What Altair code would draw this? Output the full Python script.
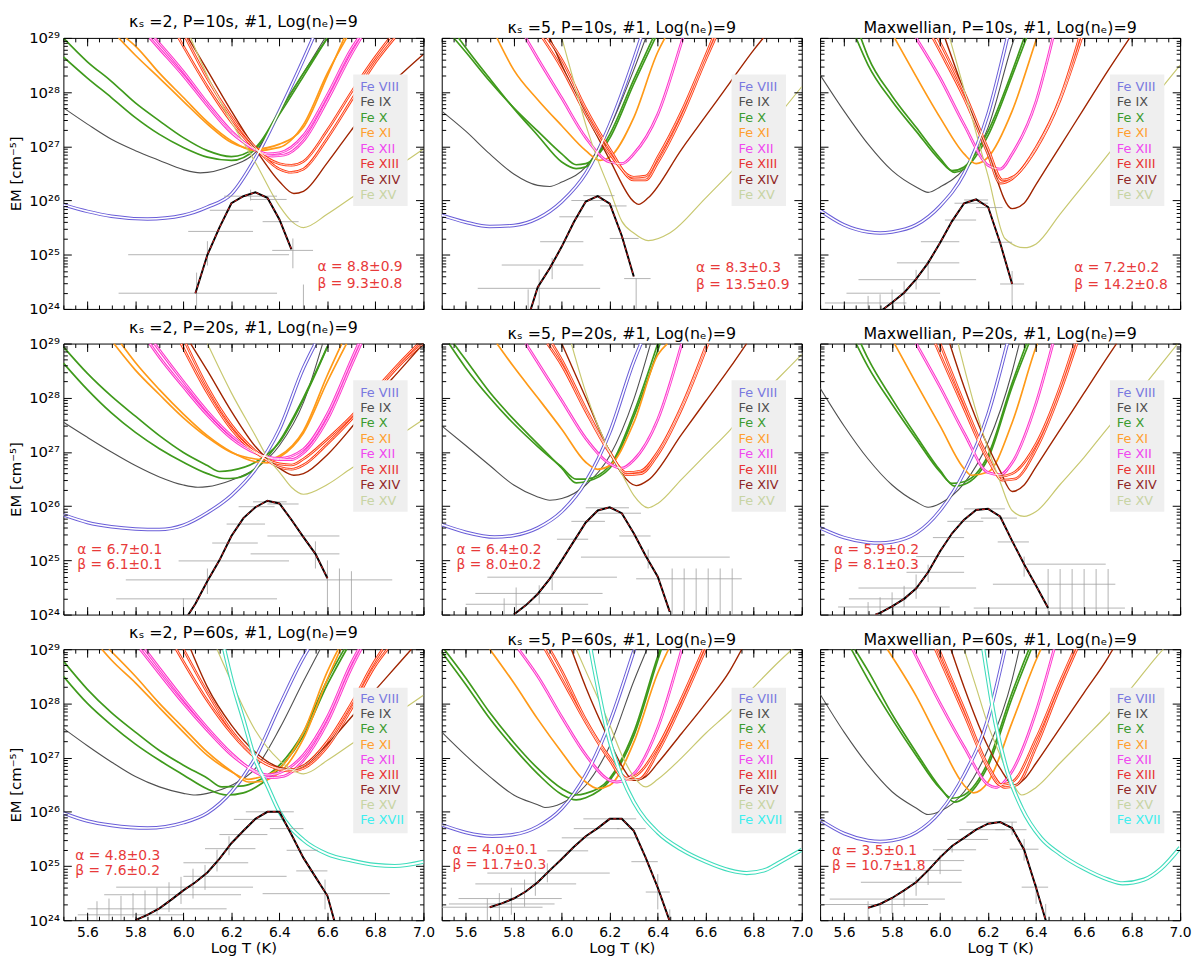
import math
import altair as alt
import pandas as pd

FONT = "DejaVu Sans, Liberation Sans, sans-serif"

IONS = ["Fe VIII", "Fe IX", "Fe X", "Fe XI", "Fe XII", "Fe XIII", "Fe XIV", "Fe XV", "Fe XVII"]
LINE_COLOR = {"Fe VIII": "#6a5ed8", "Fe IX": "#505050", "Fe X": "#3f9a1c", "Fe XI": "#ff9a18",
              "Fe XII": "#ff33cc", "Fe XIII": "#ff3a10", "Fe XIV": "#a02400", "Fe XV": "#c8c870",
              "Fe XVII": "#40dcbc"}
LEGEND_COLOR = {"Fe VIII": "#7a7ae0", "Fe IX": "#505050", "Fe X": "#3c9c30", "Fe XI": "#ffa030",
                "Fe XII": "#f048f0", "Fe XIII": "#e83434", "Fe XIV": "#902828", "Fe XV": "#c8d4a4",
                "Fe XVII": "#40eeee"}
LINE_WIDTH = {"Fe VIII": 3.6, "Fe IX": 1.1, "Fe X": 1.7, "Fe XI": 1.7, "Fe XII": 2.8,
              "Fe XIII": 2.6, "Fe XIV": 1.4, "Fe XV": 1.2, "Fe XVII": 4.2}
CORE_WIDTH = {"Fe VIII": 1.6, "Fe IX": 0, "Fe X": 0, "Fe XI": 0, "Fe XII": 0.8,
              "Fe XIII": 0.8, "Fe XIV": 0, "Fe XV": 0, "Fe XVII": 2.0}

# ---------------- kappa=2, P=10s ----------------
K2_P10_CURVES = {
    "Fe VIII": [[(5.5, 25.92), (5.6, 25.8), (5.7, 25.71), (5.85, 25.66), (6.0, 25.73), (6.1, 25.88),
                 (6.2, 26.12), (6.3, 26.78), (6.4, 27.65), (6.5, 28.6), (6.54, 29.0)]],
    "Fe IX": [[(5.5, 27.71), (5.6, 27.41), (5.7, 27.13), (5.8, 26.92), (5.9, 26.74), (6.0, 26.57),
               (6.07, 26.51), (6.2, 26.64), (6.3, 26.89), (6.4, 27.62), (6.5, 28.35), (6.59, 29.0)]],
    "Fe X": [[(5.5, 29.0), (5.6, 28.56), (5.7, 28.2), (5.8, 27.8), (5.9, 27.47), (6.0, 27.16),
              (6.1, 26.92), (6.2, 26.81), (6.3, 26.98), (6.4, 27.65), (6.5, 28.35), (6.6, 29.0)],
             [(5.5, 28.65), (5.6, 28.26), (5.7, 27.9), (5.8, 27.53), (5.9, 27.22), (6.0, 26.98),
              (6.1, 26.8), (6.2, 26.74), (6.3, 26.95), (6.4, 27.59), (6.5, 28.29), (6.6, 29.0)]],
    "Fe XI": [[(5.73, 29.0), (5.8, 28.68), (5.9, 28.26), (6.0, 27.83), (6.1, 27.41), (6.2, 27.07),
               (6.3, 26.95), (6.4, 27.04), (6.5, 27.35), (6.6, 28.3), (6.67, 29.0)],
              [(5.76, 29.0), (5.8, 28.85), (5.9, 28.35), (6.0, 27.9), (6.1, 27.45), (6.2, 27.1),
               (6.3, 26.92), (6.4, 26.98), (6.5, 27.4), (6.6, 28.35), (6.68, 29.0)]],
    "Fe XII": [[(5.86, 29.0), (5.9, 28.8), (6.0, 28.3), (6.1, 27.75), (6.2, 27.25), (6.3, 26.95),
                (6.35, 26.86), (6.4, 26.88), (6.5, 27.2), (6.6, 27.95), (6.7, 28.8), (6.73, 29.0)],
               [(5.88, 29.0), (5.9, 28.9), (6.0, 28.38), (6.1, 27.8), (6.2, 27.28), (6.3, 26.93),
                (6.37, 26.82), (6.42, 26.84), (6.5, 27.1), (6.6, 27.85), (6.7, 28.7), (6.74, 29.0)]],
    "Fe XIII": [[(5.98, 29.0), (6.1, 28.1), (6.2, 27.45), (6.3, 26.95), (6.4, 26.68), (6.45, 26.65),
                 (6.5, 26.72), (6.6, 27.3), (6.7, 28.0), (6.8, 28.65), (6.86, 29.0)],
                [(6.01, 29.0), (6.1, 28.25), (6.2, 27.55), (6.3, 26.98), (6.4, 26.58), (6.45, 26.52),
                 (6.5, 26.58), (6.6, 27.15), (6.7, 27.85), (6.8, 28.55), (6.88, 29.0)]],
    "Fe XIV": [[(6.02, 29.0), (6.1, 28.4), (6.2, 27.65), (6.3, 26.95), (6.4, 26.35), (6.46, 26.13),
                (6.5, 26.17), (6.6, 26.7), (6.7, 27.3), (6.8, 27.85), (6.9, 28.3), (7.0, 28.7)]],
    "Fe XV": [[(6.03, 29.0), (6.1, 28.3), (6.2, 27.45), (6.3, 26.7), (6.4, 25.9), (6.45, 25.62),
               (6.5, 25.5), (6.6, 25.75), (6.7, 26.05), (6.8, 26.35), (6.9, 26.65), (7.0, 26.95)]],
}
K2_P10_DEM = [(6.05, 24.29), (6.1, 25.0), (6.15, 25.5), (6.2, 25.95), (6.25, 26.08), (6.3, 26.15),
              (6.35, 26.05), (6.4, 25.65), (6.45, 25.1)]
K2_P10_XERR = [(5.73, 6.39, 24.29), (5.77, 6.44, 25.0), (6.02, 6.29, 25.43), (6.11, 6.29, 25.82),
               (6.17, 6.39, 26.08), (6.28, 6.43, 26.02), (6.33, 6.48, 25.61), (6.37, 6.54, 25.08)]
K2_P10_YERR = [(6.055, 24.0, 24.67), (6.1, 24.8, 25.25), (6.28, 26.0, 26.2), (6.456, 24.75, 25.3),
               (6.5, 24.0, 24.45)]
K2_P10_FIT = ["α = 8.8±0.9", "β = 9.3±0.8"]

# ---------------- kappa=5, P=10s ----------------
K5_P10_CURVES = {
    "Fe VIII": [[(5.5, 25.73), (5.6, 25.6), (5.7, 25.52), (5.8, 25.54), (5.9, 25.67), (6.0, 25.98),
                 (6.1, 26.5), (6.2, 27.4), (6.3, 28.6), (6.33, 29.0)]],
    "Fe IX": [[(5.5, 27.65), (5.6, 27.28), (5.7, 26.86), (5.8, 26.49), (5.9, 26.28), (5.95, 26.26),
               (6.0, 26.34), (6.1, 26.62), (6.2, 27.35), (6.3, 28.41), (6.35, 29.0)]],
    "Fe X": [[(5.55, 29.0), (5.6, 28.74), (5.7, 28.2), (5.8, 27.71), (5.9, 27.28), (6.0, 26.86),
              (6.06, 26.66), (6.1, 26.68), (6.14, 26.8), (6.2, 27.22), (6.3, 28.23), (6.38, 29.0)],
             [(5.57, 29.0), (5.6, 28.82), (5.7, 28.25), (5.8, 27.7), (5.9, 27.2), (6.0, 26.71),
              (6.06, 26.59), (6.1, 26.62), (6.14, 26.78), (6.2, 27.15), (6.3, 28.15), (6.39, 29.0)]],
    "Fe XI": [[(5.73, 29.0), (5.8, 28.41), (5.9, 27.86), (6.0, 27.38), (6.1, 26.92), (6.16, 26.74),
               (6.2, 26.8), (6.3, 27.53), (6.4, 28.74), (6.43, 29.0)]],
    "Fe XII": [[(5.85, 29.0), (5.9, 28.62), (6.0, 27.89), (6.1, 27.16), (6.2, 26.71), (6.25, 26.68),
                (6.3, 26.86), (6.4, 27.59), (6.5, 28.93), (6.505, 29.0)]],
    "Fe XIII": [[(5.92, 29.0), (6.0, 28.44), (6.1, 27.59), (6.2, 26.86), (6.3, 26.43), (6.35, 26.45),
                 (6.4, 26.8), (6.5, 27.65), (6.6, 28.68), (6.63, 29.0)],
                [(5.94, 29.0), (6.0, 28.6), (6.1, 27.7), (6.2, 26.95), (6.3, 26.38), (6.35, 26.38),
                 (6.4, 26.7), (6.5, 27.55), (6.6, 28.6), (6.64, 29.0)]],
    "Fe XIV": [[(5.95, 29.0), (6.0, 28.5), (6.1, 27.6), (6.2, 26.75), (6.3, 25.98), (6.32, 25.93),
                (6.36, 26.05), (6.5, 26.95), (6.6, 27.56), (6.7, 28.17), (6.8, 28.78), (6.84, 29.0)]],
    "Fe XV": [[(6.0, 29.0), (6.05, 28.2), (6.1, 27.4), (6.15, 26.75), (6.2, 26.2), (6.25, 25.62),
               (6.3, 25.4), (6.36, 25.26), (6.45, 25.4), (6.6, 26.05), (6.7, 26.5), (6.8, 26.97),
               (6.9, 27.55), (7.0, 28.1)]],
}
K5_P10_DEM = [(5.87, 23.98), (5.9, 24.4), (5.95, 24.75), (6.0, 25.15), (6.05, 25.6), (6.1, 25.98),
              (6.15, 26.08), (6.2, 25.94), (6.25, 25.35), (6.3, 24.6)]
K5_P10_XERR = [(5.65, 6.16, 24.38), (5.75, 6.09, 24.81), (5.91, 6.09, 25.24), (5.99, 6.13, 25.7),
               (6.04, 6.18, 26.0), (6.09, 6.22, 26.09), (6.16, 6.27, 25.9), (6.2, 6.32, 25.3),
               (6.26, 6.37, 24.56)]
K5_P10_YERR = [(5.86, 24.0, 24.36), (5.906, 24.0, 24.73), (5.96, 24.55, 24.94), (6.31, 24.0, 24.56)]
K5_P10_FIT = ["α = 8.3±0.3", "β = 13.5±0.9"]

# ---------------- Maxwellian, P=10s ----------------
M_P10_CURVES = {
    "Fe VIII": [[(5.5, 25.82), (5.6, 25.55), (5.7, 25.42), (5.75, 25.4), (5.8, 25.42), (5.9, 25.55),
                 (6.0, 25.9), (6.1, 26.5), (6.2, 27.6), (6.28, 29.0)]],
    "Fe IX": [[(5.5, 28.32), (5.6, 27.65), (5.7, 27.04), (5.8, 26.55), (5.9, 26.25), (5.95, 26.15),
               (6.0, 26.25), (6.1, 26.59), (6.2, 27.35), (6.3, 28.87), (6.31, 29.0)]],
    "Fe X": [[(5.65, 29.0), (5.7, 28.5), (5.8, 27.83), (5.9, 27.28), (6.0, 26.74), (6.05, 26.55),
              (6.1, 26.62), (6.2, 27.28), (6.3, 28.38), (6.35, 29.0)],
             [(5.67, 29.0), (5.7, 28.65), (5.8, 27.93), (5.9, 27.35), (6.0, 26.78), (6.06, 26.52),
              (6.1, 26.58), (6.2, 27.2), (6.3, 28.3), (6.36, 29.0)]],
    "Fe XI": [[(5.81, 29.0), (5.9, 28.29), (6.0, 27.53), (6.1, 26.86), (6.15, 26.68), (6.2, 26.8),
               (6.3, 27.65), (6.4, 28.96), (6.403, 29.0)]],
    "Fe XII": [[(5.9, 29.0), (6.0, 28.26), (6.1, 27.4), (6.2, 26.65), (6.25, 26.58), (6.3, 26.86),
                (6.4, 27.83), (6.47, 29.0)]],
    "Fe XIII": [[(5.97, 29.0), (6.0, 28.75), (6.1, 27.89), (6.2, 26.85), (6.25, 26.32), (6.3, 26.4),
                 (6.4, 26.98), (6.5, 27.89), (6.58, 29.0)],
                [(5.99, 29.0), (6.1, 28.0), (6.2, 26.95), (6.26, 26.38), (6.31, 26.45), (6.4, 26.95),
                 (6.5, 27.85), (6.59, 29.0)]],
    "Fe XIV": [[(6.02, 29.0), (6.1, 28.01), (6.2, 26.86), (6.3, 25.85), (6.35, 25.95), (6.4, 26.3),
                (6.5, 27.0), (6.6, 27.7), (6.7, 28.4), (6.79, 29.0)]],
    "Fe XV": [[(6.04, 29.0), (6.1, 28.05), (6.2, 26.45), (6.27, 25.3), (6.35, 25.13), (6.4, 25.2),
               (6.5, 25.75), (6.6, 26.3), (6.7, 26.85), (6.8, 27.4), (6.9, 27.95), (7.0, 28.5)]],
}
M_P10_DEM = [(5.75, 23.95), (5.8, 24.12), (5.85, 24.3), (5.9, 24.55), (5.95, 24.85), (6.0, 25.22),
             (6.05, 25.62), (6.1, 25.95), (6.15, 26.02), (6.2, 25.88), (6.25, 25.22), (6.3, 24.46)]
M_P10_XERR = [(5.52, 5.86, 24.11), (5.61, 6.0, 24.29), (5.66, 6.15, 24.54), (5.82, 6.08, 24.85),
              (5.92, 6.08, 25.24), (6.02, 6.15, 25.64), (6.06, 6.2, 25.95), (6.1, 6.2, 26.01),
              (6.15, 6.26, 25.87), (6.21, 6.3, 25.23), (6.25, 6.35, 24.46)]
M_P10_YERR = [(5.7, 24.0, 24.24), (5.75, 24.0, 24.27), (5.8, 24.0, 24.36), (5.85, 24.06, 24.51),
              (5.9, 24.36, 24.72), (5.95, 24.55, 24.9), (6.3, 24.0, 24.7)]
M_P10_FIT = ["α = 7.2±0.2", "β = 14.2±0.8"]

# ---------------- kappa=2, P=20s ----------------
K2_P20_CURVES = {
    "Fe VIII": [[(5.5, 25.84), (5.6, 25.7), (5.7, 25.62), (5.8, 25.58), (5.9, 25.57), (6.0, 25.65),
                 (6.1, 25.88), (6.2, 26.2), (6.3, 26.68), (6.4, 27.42), (6.5, 28.55), (6.55, 29.0)]],
    "Fe IX": [[(5.5, 27.55), (5.6, 27.27), (5.7, 27.0), (5.8, 26.75), (5.9, 26.54), (6.0, 26.39),
               (6.06, 26.35), (6.1, 26.36), (6.2, 26.48), (6.3, 26.69), (6.4, 27.12), (6.5, 27.91),
               (6.58, 29.0)]],
    "Fe X": [[(5.5, 28.94), (5.6, 28.45), (5.7, 28.03), (5.8, 27.66), (5.9, 27.3), (6.0, 26.99),
              (6.1, 26.75), (6.15, 26.64), (6.2, 26.66), (6.3, 26.81), (6.4, 27.18), (6.5, 27.97),
              (6.6, 28.94)],
             [(5.5, 28.64), (5.6, 28.15), (5.7, 27.72), (5.8, 27.36), (5.9, 27.06), (6.0, 26.81),
              (6.1, 26.6), (6.17, 26.51), (6.22, 26.52), (6.3, 26.69), (6.4, 27.2), (6.5, 28.0),
              (6.6, 28.95)]],
    "Fe XI": [[(5.71, 29.0), (5.8, 28.51), (5.9, 28.06), (6.0, 27.63), (6.1, 27.27), (6.2, 26.99),
               (6.3, 26.87), (6.35, 26.85), (6.4, 26.93), (6.5, 27.39), (6.6, 28.42), (6.66, 29.0)],
              [(5.74, 29.0), (5.8, 28.65), (5.9, 28.15), (6.0, 27.7), (6.1, 27.3), (6.2, 27.0),
               (6.3, 26.82), (6.35, 26.8), (6.4, 26.9), (6.5, 27.35), (6.6, 28.3), (6.68, 29.0)]],
    "Fe XII": [[(5.86, 29.0), (5.9, 28.75), (6.0, 28.2), (6.1, 27.68), (6.2, 27.25), (6.3, 26.98),
                (6.4, 26.88), (6.5, 27.05), (6.6, 27.7), (6.7, 28.7), (6.73, 29.0)],
               [(5.88, 29.0), (5.9, 28.88), (6.0, 28.3), (6.1, 27.75), (6.2, 27.3), (6.3, 27.0),
                (6.4, 26.86), (6.45, 26.86), (6.5, 26.98), (6.6, 27.6), (6.7, 28.6), (6.74, 29.0)]],
    "Fe XIII": [[(5.99, 29.0), (6.1, 28.09), (6.2, 27.42), (6.3, 26.99), (6.4, 26.78), (6.45, 26.76),
                 (6.5, 26.87), (6.6, 27.24), (6.7, 27.66), (6.8, 28.15), (6.9, 28.64), (6.98, 29.0)],
                [(6.01, 29.0), (6.1, 28.2), (6.2, 27.5), (6.3, 27.02), (6.4, 26.72), (6.45, 26.68),
                 (6.5, 26.76), (6.6, 27.15), (6.7, 27.6), (6.8, 28.1), (6.9, 28.6), (7.0, 29.0)]],
    "Fe XIV": [[(6.03, 29.0), (6.1, 28.5), (6.2, 27.75), (6.3, 27.1), (6.4, 26.7), (6.46, 26.57),
                (6.5, 26.6), (6.6, 26.95), (6.7, 27.45), (6.8, 28.0), (6.9, 28.5), (7.0, 29.0)]],
    "Fe XV": [[(6.1, 29.0), (6.2, 28.09), (6.3, 27.3), (6.35, 26.9), (6.4, 26.63), (6.45, 26.35),
               (6.5, 26.22), (6.6, 26.4), (6.7, 26.7), (6.8, 26.98), (6.9, 27.3), (7.0, 27.6)]],
}
K2_P20_DEM = [(6.015, 23.96), (6.05, 24.2), (6.1, 24.62), (6.15, 25.0), (6.2, 25.45), (6.25, 25.78),
              (6.3, 25.98), (6.35, 26.1), (6.4, 26.05), (6.45, 25.75), (6.5, 25.43), (6.55, 25.12),
              (6.6, 24.67)]
K2_P20_XERR = [(5.72, 6.39, 24.29), (5.76, 6.87, 24.64), (5.98, 6.44, 24.99), (6.12, 6.31, 25.32),
               (6.18, 6.34, 25.67), (6.23, 6.38, 25.99), (6.29, 6.43, 26.08), (6.35, 6.48, 26.04),
               (6.35, 6.65, 25.45), (6.28, 6.65, 25.12)]
K2_P20_YERR = [(6.0, 24.0, 24.3), (6.1, 24.38, 24.85), (6.55, 24.85, 25.35), (6.6, 24.0, 25.0),
               (6.65, 24.0, 24.85), (6.7, 24.0, 24.8)]
K2_P20_FIT = ["α = 6.7±0.1", "β = 6.1±0.1"]

# ---------------- kappa=5, P=20s ----------------
K5_P20_CURVES = {
    "Fe VIII": [[(5.5, 25.66), (5.6, 25.52), (5.72, 25.43), (5.8, 25.46), (5.9, 25.6), (6.0, 25.9),
                 (6.1, 26.45), (6.2, 27.36), (6.3, 28.67), (6.33, 29.0)]],
    "Fe IX": [[(5.5, 27.48), (5.6, 27.12), (5.7, 26.75), (5.8, 26.39), (5.9, 26.17), (5.95, 26.11),
               (6.0, 26.14), (6.1, 26.39), (6.2, 26.93), (6.3, 27.97), (6.37, 29.0)]],
    "Fe X": [[(5.53, 29.0), (5.6, 28.55), (5.7, 28.0), (5.8, 27.52), (5.9, 27.1), (6.0, 26.72),
              (6.06, 26.5), (6.1, 26.5), (6.2, 26.75), (6.3, 27.72), (6.4, 29.0)],
             [(5.55, 29.0), (5.6, 28.7), (5.7, 28.1), (5.8, 27.6), (5.9, 27.15), (6.0, 26.7),
              (6.06, 26.43), (6.1, 26.45), (6.2, 26.7), (6.3, 27.65), (6.41, 29.0)]],
    "Fe XI": [[(5.73, 29.0), (5.8, 28.57), (5.9, 28.0), (6.0, 27.42), (6.1, 26.81), (6.15, 26.68),
               (6.2, 26.75), (6.3, 27.54), (6.4, 28.79), (6.44, 29.0)]],
    "Fe XII": [[(5.85, 29.0), (5.9, 28.65), (6.0, 27.95), (6.1, 27.25), (6.2, 26.78), (6.25, 26.7),
                (6.3, 26.85), (6.4, 27.6), (6.5, 29.0)]],
    "Fe XIII": [[(5.94, 29.0), (6.0, 28.6), (6.1, 27.75), (6.2, 26.98), (6.27, 26.62), (6.33, 26.65),
                 (6.4, 27.0), (6.5, 27.85), (6.6, 28.95)],
                [(5.96, 29.0), (6.0, 28.7), (6.1, 27.8), (6.2, 27.0), (6.27, 26.58), (6.33, 26.6),
                 (6.4, 26.95), (6.5, 27.8), (6.61, 29.0)]],
    "Fe XIV": [[(6.0, 29.0), (6.1, 28.0), (6.2, 27.0), (6.25, 26.6), (6.31, 26.38), (6.36, 26.48),
                (6.5, 27.33), (6.6, 27.94), (6.7, 28.55), (6.77, 29.0)]],
    "Fe XV": [[(6.04, 29.0), (6.1, 28.1), (6.2, 27.0), (6.25, 26.6), (6.3, 26.2), (6.36, 25.97),
               (6.4, 26.05), (6.5, 26.5), (6.6, 26.95), (6.7, 27.4), (6.8, 27.9), (6.9, 28.35),
               (7.0, 28.8)]],
}
K5_P20_DEM = [(5.8, 24.0), (5.85, 24.17), (5.9, 24.38), (5.95, 24.66), (6.0, 25.0), (6.05, 25.35),
              (6.1, 25.7), (6.15, 25.92), (6.2, 25.98), (6.25, 25.87), (6.3, 25.5), (6.35, 25.08),
              (6.4, 24.7), (6.45, 24.05)]
K5_P20_XERR = [(5.6, 6.11, 24.19), (5.64, 6.17, 24.39), (5.69, 6.23, 24.69), (5.98, 6.11, 25.39),
               (6.04, 6.18, 25.72), (6.1, 6.28, 25.97), (6.15, 6.33, 25.87), (6.24, 6.37, 25.45),
               (6.08, 6.7, 25.06), (6.31, 6.75, 24.66)]
K5_P20_YERR = [(5.76, 24.0, 24.3), (5.81, 24.0, 24.5), (5.906, 24.2, 24.54), (5.96, 24.45, 24.81),
               (6.36, 24.85, 25.2), (6.46, 24.0, 24.85), (6.51, 24.0, 24.85), (6.56, 24.0, 24.85),
               (6.61, 24.0, 24.85), (6.66, 24.0, 24.85), (6.71, 24.0, 24.85)]
K5_P20_FIT = ["α = 6.4±0.2", "β = 8.0±0.2"]

# ---------------- Maxwellian, P=20s ----------------
M_P20_CURVES = {
    "Fe VIII": [[(5.5, 25.6), (5.6, 25.42), (5.7, 25.33), (5.75, 25.32), (5.8, 25.34), (5.9, 25.5),
                 (6.0, 25.92), (6.1, 26.62), (6.2, 27.7), (6.28, 29.0)]],
    "Fe IX": [[(5.5, 28.18), (5.6, 27.48), (5.7, 26.87), (5.8, 26.39), (5.9, 26.08), (5.95, 25.98),
               (6.0, 26.05), (6.1, 26.42), (6.2, 27.18), (6.3, 28.48), (6.33, 29.0)]],
    "Fe X": [[(5.65, 29.0), (5.7, 28.57), (5.8, 27.88), (5.9, 27.24), (6.0, 26.63), (6.05, 26.42),
              (6.1, 26.45), (6.2, 26.94), (6.3, 28.27), (6.36, 29.0)],
             [(5.67, 29.0), (5.7, 28.72), (5.8, 27.98), (5.9, 27.3), (6.0, 26.66), (6.06, 26.37),
              (6.1, 26.4), (6.2, 26.88), (6.3, 28.2), (6.37, 29.0)]],
    "Fe XI": [[(5.81, 29.0), (5.9, 28.27), (6.0, 27.48), (6.1, 26.69), (6.13, 26.57), (6.2, 26.63),
               (6.3, 27.54), (6.4, 28.94), (6.405, 29.0)]],
    "Fe XII": [[(5.9, 29.0), (6.0, 28.2), (6.1, 27.35), (6.2, 26.62), (6.25, 26.58), (6.3, 26.8),
                (6.4, 27.9), (6.47, 29.0)]],
    "Fe XIII": [[(5.98, 29.0), (6.1, 27.8), (6.2, 26.85), (6.25, 26.55), (6.3, 26.6), (6.4, 27.15),
                 (6.5, 28.2), (6.56, 29.0)],
                [(6.0, 29.0), (6.1, 27.9), (6.2, 26.9), (6.26, 26.48), (6.31, 26.5), (6.4, 27.05),
                 (6.5, 28.1), (6.57, 29.0)]],
    "Fe XIV": [[(6.04, 29.0), (6.1, 28.2), (6.2, 27.1), (6.25, 26.65), (6.3, 26.27), (6.35, 26.39),
                (6.4, 26.73), (6.5, 27.41), (6.6, 28.09), (6.7, 28.77), (6.735, 29.0)]],
    "Fe XV": [[(6.075, 29.0), (6.15, 27.75), (6.2, 27.06), (6.25, 26.45), (6.3, 25.92), (6.35, 25.81),
               (6.4, 25.9), (6.5, 26.4), (6.6, 26.9), (6.7, 27.45), (6.8, 27.95), (6.9, 28.5),
               (6.99, 29.0)]],
}
M_P20_DEM = [(5.73, 24.0), (5.75, 24.03), (5.8, 24.15), (5.85, 24.29), (5.9, 24.48), (5.95, 24.78),
             (6.0, 25.17), (6.05, 25.5), (6.1, 25.75), (6.15, 25.93), (6.2, 25.95), (6.25, 25.81),
             (6.3, 25.36), (6.35, 24.93), (6.4, 24.53), (6.45, 24.12)]
M_P20_XERR = [(5.575, 6.04, 24.14), (5.62, 5.86, 24.29), (5.66, 6.15, 24.49), (5.86, 6.1, 24.78),
              (5.9, 6.1, 25.07), (5.97, 6.1, 25.42), (6.03, 6.18, 25.72), (6.1, 6.27, 25.95),
              (6.17, 6.32, 25.78), (6.24, 6.37, 25.34), (6.36, 6.69, 24.93), (6.22, 6.73, 24.56),
              (6.14, 6.77, 24.12)]
M_P20_YERR = [(5.7, 24.0, 24.23), (5.75, 24.0, 24.32), (5.8, 24.0, 24.41), (5.85, 24.14, 24.53),
              (5.9, 24.29, 24.74), (5.95, 24.6, 24.92), (6.35, 24.7, 25.07), (6.45, 24.0, 24.84),
              (6.5, 24.0, 24.84), (6.55, 24.0, 24.84), (6.6, 24.0, 24.84), (6.65, 24.0, 24.84),
              (6.7, 24.0, 24.84)]
M_P20_FIT = ["α = 5.9±0.2", "β = 8.1±0.3"]

# ---------------- kappa=2, P=60s ----------------
K2_P60_CURVES = {
    "Fe VIII": [[(5.5, 25.98), (5.6, 25.83), (5.7, 25.75), (5.85, 25.7), (6.0, 25.8), (6.1, 25.98),
                 (6.2, 26.37), (6.3, 27.0), (6.4, 27.95), (6.5, 28.85), (6.52, 29.0)]],
    "Fe IX": [[(5.5, 27.54), (5.6, 27.22), (5.7, 26.92), (5.8, 26.65), (5.9, 26.46), (6.0, 26.34),
               (6.05, 26.31), (6.1, 26.34), (6.2, 26.49), (6.3, 26.8), (6.4, 27.53), (6.5, 28.41),
               (6.57, 29.0)]],
    "Fe X": [[(5.5, 28.78), (5.6, 28.26), (5.7, 27.83), (5.8, 27.47), (5.9, 27.13), (6.0, 26.86),
              (6.1, 26.62), (6.16, 26.46), (6.25, 26.48), (6.3, 26.55), (6.4, 26.86), (6.5, 27.47),
              (6.6, 28.44), (6.67, 29.0)],
             [(5.5, 28.5), (5.6, 28.0), (5.7, 27.6), (5.8, 27.25), (5.9, 26.95), (6.0, 26.68),
              (6.1, 26.42), (6.18, 26.31), (6.25, 26.35), (6.3, 26.45), (6.4, 26.8), (6.5, 27.4),
              (6.6, 28.35), (6.68, 29.0)]],
    "Fe XI": [[(5.66, 29.0), (5.7, 28.8), (5.8, 28.38), (5.9, 27.92), (6.0, 27.47), (6.1, 27.04),
               (6.2, 26.74), (6.27, 26.6), (6.3, 26.62), (6.4, 26.8), (6.5, 27.47), (6.6, 28.59),
               (6.645, 29.0)],
              [(5.69, 29.0), (5.8, 28.5), (5.9, 28.0), (6.0, 27.55), (6.1, 27.1), (6.2, 26.75),
               (6.27, 26.55), (6.3, 26.55), (6.4, 26.72), (6.5, 27.35), (6.6, 28.45), (6.655, 29.0)]],
    "Fe XII": [[(5.82, 29.0), (5.9, 28.55), (6.0, 28.0), (6.1, 27.5), (6.2, 27.05), (6.3, 26.75),
                (6.35, 26.68), (6.4, 26.72), (6.5, 27.05), (6.6, 27.75), (6.7, 28.75), (6.73, 29.0)],
               [(5.84, 29.0), (5.9, 28.65), (6.0, 28.08), (6.1, 27.55), (6.2, 27.08), (6.3, 26.73),
                (6.36, 26.63), (6.42, 26.66), (6.5, 26.95), (6.6, 27.65), (6.7, 28.65), (6.74, 29.0)]],
    "Fe XIII": [[(5.97, 29.0), (6.1, 28.05), (6.2, 27.45), (6.3, 27.0), (6.4, 26.8), (6.45, 26.78),
                 (6.5, 26.85), (6.6, 27.3), (6.7, 28.0), (6.8, 28.8), (6.83, 29.0)],
                [(6.0, 29.0), (6.1, 28.2), (6.2, 27.5), (6.3, 27.02), (6.4, 26.78), (6.45, 26.75),
                 (6.5, 26.8), (6.6, 27.2), (6.7, 27.9), (6.8, 28.7), (6.85, 29.0)]],
    "Fe XIV": [[(6.03, 29.0), (6.1, 28.3), (6.2, 27.6), (6.3, 27.1), (6.4, 26.82), (6.46, 26.78),
                (6.5, 26.85), (6.6, 27.25), (6.7, 27.75), (6.8, 28.25), (6.9, 28.75), (6.95, 29.0)]],
    "Fe XV": [[(6.14, 29.0), (6.2, 28.4), (6.3, 27.5), (6.4, 26.95), (6.45, 26.78), (6.5, 26.7),
               (6.6, 26.95), (6.7, 27.25), (6.8, 27.55), (6.9, 27.85), (7.0, 28.15)]],
    "Fe XVII": [[(6.17, 29.0), (6.2, 28.45), (6.25, 27.7), (6.3, 26.95), (6.35, 26.48), (6.4, 26.0),
                 (6.5, 25.48), (6.6, 25.22), (6.7, 25.1), (6.8, 25.02), (6.88, 25.0), (7.0, 25.08)]],
}
K2_P60_DEM = [(5.8, 24.0), (5.85, 24.1), (5.9, 24.22), (5.95, 24.38), (6.0, 24.55), (6.05, 24.7),
              (6.1, 24.88), (6.15, 25.13), (6.2, 25.42), (6.25, 25.65), (6.3, 25.87), (6.35, 26.0),
              (6.4, 26.0), (6.45, 25.58), (6.5, 25.15), (6.55, 24.8), (6.6, 24.45), (6.63, 23.97)]
K2_P60_XERR = [(5.56, 6.0, 24.1), (5.6, 6.18, 24.21), (5.67, 6.24, 24.47), (5.72, 6.29, 24.61),
               (6.0, 6.43, 24.81), (6.0, 6.27, 25.06), (6.09, 6.3, 25.32), (6.15, 6.35, 25.58),
               (6.21, 6.42, 25.86), (6.26, 6.46, 26.0), (6.36, 6.5, 25.69), (6.43, 6.56, 25.29),
               (6.47, 6.6, 24.91), (6.33, 6.86, 24.49)]
K2_P60_YERR = [(5.64, 24.0, 24.35), (5.69, 24.0, 24.4), (5.74, 24.0, 24.45), (5.79, 24.05, 24.5),
               (5.84, 24.05, 24.55), (5.89, 24.1, 24.6), (5.94, 24.15, 24.7), (5.99, 24.3, 24.8),
               (6.04, 24.4, 24.95), (6.09, 24.56, 25.02), (6.14, 24.9, 25.3), (6.19, 25.2, 25.55),
               (6.59, 24.2, 24.75)]
K2_P60_FIT = ["α = 4.8±0.3", "β = 7.6±0.2"]

# ---------------- kappa=5, P=60s ----------------
K5_P60_CURVES = {
    "Fe VIII": [[(5.5, 25.76), (5.6, 25.62), (5.71, 25.55), (5.8, 25.58), (5.9, 25.73), (6.0, 26.06),
                 (6.1, 26.68), (6.2, 27.65), (6.3, 28.96), (6.303, 29.0)]],
    "Fe IX": [[(5.5, 27.47), (5.6, 27.04), (5.7, 26.65), (5.8, 26.31), (5.9, 26.13), (5.93, 26.08),
               (6.0, 26.16), (6.1, 26.49), (6.2, 27.22), (6.3, 28.41), (6.355, 29.0)]],
    "Fe X": [[(5.51, 29.0), (5.6, 28.47), (5.7, 27.83), (5.8, 27.28), (5.9, 26.8), (6.0, 26.43),
              (6.06, 26.31), (6.1, 26.34), (6.2, 26.62), (6.3, 27.47), (6.4, 28.87), (6.41, 29.0)],
             [(5.5, 28.95), (5.6, 28.35), (5.7, 27.72), (5.8, 27.18), (5.9, 26.7), (6.0, 26.32),
              (6.06, 26.22), (6.1, 26.26), (6.2, 26.58), (6.3, 27.4), (6.4, 28.8), (6.415, 29.0)]],
    "Fe XI": [[(5.7, 29.0), (5.8, 28.38), (5.9, 27.71), (6.0, 27.1), (6.1, 26.55), (6.15, 26.43),
               (6.2, 26.49), (6.3, 27.28), (6.4, 28.56), (6.445, 29.0)]],
    "Fe XII": [[(5.82, 29.0), (5.9, 28.5), (6.0, 27.75), (6.1, 27.05), (6.2, 26.58), (6.23, 26.55),
                (6.3, 26.7), (6.4, 27.55), (6.5, 29.0)]],
    "Fe XIII": [[(5.93, 29.0), (6.0, 28.45), (6.1, 27.65), (6.2, 26.95), (6.26, 26.62), (6.3, 26.65),
                 (6.4, 27.2), (6.5, 28.1), (6.59, 29.0)],
                [(5.95, 29.0), (6.0, 28.6), (6.1, 27.7), (6.2, 27.0), (6.28, 26.6), (6.32, 26.6),
                 (6.4, 27.1), (6.5, 28.0), (6.6, 29.0)]],
    "Fe XIV": [[(6.04, 29.0), (6.1, 28.3), (6.2, 27.3), (6.25, 26.85), (6.3, 26.58), (6.35, 26.65),
                (6.4, 26.9), (6.5, 27.45), (6.6, 28.0), (6.7, 28.6), (6.75, 29.0)]],
    "Fe XV": [[(6.06, 29.0), (6.1, 28.6), (6.2, 27.6), (6.25, 27.05), (6.3, 26.65), (6.35, 26.46),
               (6.4, 26.6), (6.5, 27.0), (6.6, 27.45), (6.7, 27.85), (6.8, 28.3), (6.9, 28.75),
               (6.96, 29.0)]],
    "Fe XVII": [[(6.12, 29.0), (6.2, 27.3), (6.25, 26.65), (6.3, 26.18), (6.4, 25.62), (6.5, 25.3),
                 (6.6, 25.08), (6.7, 24.92), (6.77, 24.87), (6.85, 24.93), (6.9, 25.05), (7.0, 25.3)]],
}
K5_P60_DEM = [(5.7, 24.24), (5.75, 24.31), (5.8, 24.4), (5.85, 24.53), (5.9, 24.7), (5.95, 24.92),
              (6.0, 25.13), (6.05, 25.35), (6.1, 25.55), (6.15, 25.7), (6.2, 25.87), (6.25, 25.87),
              (6.3, 25.65), (6.35, 25.15), (6.4, 24.6), (6.45, 23.98)]
K5_P60_XERR = [(5.5, 5.92, 24.24), (5.53, 5.97, 24.3), (5.57, 6.0, 24.4), (5.64, 6.06, 24.67),
               (5.69, 6.2, 24.87), (5.94, 6.11, 25.28), (6.0, 6.31, 25.52), (6.05, 6.24, 25.69),
               (6.09, 6.31, 25.87), (6.23, 6.35, 25.69), (6.29, 6.4, 25.08), (6.35, 6.45, 24.52)]
K5_P60_YERR = [(5.69, 24.0, 24.4), (5.74, 24.0, 24.5), (5.79, 24.1, 24.6), (5.845, 24.25, 24.75),
               (5.89, 24.45, 24.9), (5.94, 24.7, 25.05), (6.4, 24.2, 24.85), (6.45, 24.0, 24.2)]
K5_P60_FIT = ["α = 4.0±0.1", "β = 11.7±0.3"]

# ---------------- Maxwellian, P=60s ----------------
M_P60_CURVES = {
    "Fe VIII": [[(5.5, 25.85), (5.6, 25.6), (5.7, 25.47), (5.75, 25.45), (5.8, 25.47), (5.9, 25.62),
                 (6.0, 26.0), (6.1, 26.68), (6.2, 27.72), (6.27, 29.0)]],
    "Fe IX": [[(5.5, 28.17), (5.6, 27.47), (5.7, 26.86), (5.8, 26.37), (5.9, 26.07), (5.95, 25.95),
               (6.0, 26.01), (6.1, 26.37), (6.2, 27.16), (6.3, 28.44), (6.33, 29.0)]],
    "Fe X": [[(5.63, 29.0), (5.7, 28.44), (5.8, 27.71), (5.9, 27.04), (6.0, 26.43), (6.05, 26.25),
              (6.1, 26.31), (6.2, 26.92), (6.3, 28.2), (6.37, 29.0)],
             [(5.645, 29.0), (5.7, 28.6), (5.8, 27.8), (5.9, 27.1), (6.0, 26.45), (6.06, 26.18),
              (6.1, 26.25), (6.2, 26.85), (6.3, 28.1), (6.38, 29.0)]],
    "Fe XI": [[(5.78, 29.0), (5.9, 28.14), (6.0, 27.28), (6.1, 26.49), (6.14, 26.35), (6.2, 26.55),
               (6.3, 27.65), (6.4, 28.8), (6.42, 29.0)]],
    "Fe XII": [[(5.885, 29.0), (6.0, 28.0), (6.1, 27.2), (6.2, 26.5), (6.23, 26.45), (6.3, 26.75),
                (6.4, 27.85), (6.475, 29.0)]],
    "Fe XIII": [[(5.98, 29.0), (6.1, 27.8), (6.2, 26.8), (6.25, 26.5), (6.3, 26.55), (6.4, 27.35),
                 (6.5, 28.4), (6.56, 29.0)],
                [(5.995, 29.0), (6.1, 27.9), (6.2, 26.85), (6.27, 26.45), (6.32, 26.5), (6.4, 27.2),
                 (6.5, 28.3), (6.57, 29.0)]],
    "Fe XIV": [[(6.045, 29.0), (6.1, 28.3), (6.2, 27.2), (6.25, 26.8), (6.31, 26.49), (6.35, 26.6),
                (6.4, 26.9), (6.5, 27.55), (6.6, 28.2), (6.7, 28.85), (6.72, 29.0)]],
    "Fe XV": [[(6.1, 29.0), (6.15, 28.3), (6.2, 27.6), (6.25, 27.05), (6.3, 26.55), (6.34, 26.31),
               (6.4, 26.45), (6.5, 26.9), (6.6, 27.35), (6.7, 27.8), (6.8, 28.3), (6.9, 28.85),
               (6.93, 29.0)]],
    "Fe XVII": [[(6.18, 29.0), (6.23, 27.65), (6.28, 26.74), (6.34, 26.07), (6.42, 25.52), (6.5, 25.22),
                 (6.6, 24.95), (6.7, 24.75), (6.76, 24.68), (6.85, 24.75), (6.92, 24.95), (7.0, 25.34)]],
}
M_P60_DEM = [(5.7, 24.23), (5.75, 24.3), (5.8, 24.41), (5.85, 24.55), (5.9, 24.7), (5.95, 24.92),
             (6.0, 25.16), (6.05, 25.37), (6.1, 25.52), (6.15, 25.67), (6.2, 25.78), (6.25, 25.81),
             (6.3, 25.7), (6.35, 25.3), (6.4, 24.6), (6.44, 24.0)]
M_P60_XERR = [(5.5, 5.95, 24.29), (5.54, 6.02, 24.39), (5.67, 6.09, 24.7), (5.83, 6.09, 24.92),
              (5.9, 6.1, 25.1), (5.97, 6.15, 25.3), (6.03, 6.2, 25.49), (6.08, 6.27, 25.67),
              (6.11, 6.32, 25.81), (6.23, 6.36, 25.67), (6.29, 6.41, 25.31), (6.34, 6.45, 24.61)]
M_P60_YERR = [(5.7, 24.0, 24.35), (5.75, 24.12, 24.3), (5.8, 24.12, 24.4), (5.85, 24.25, 24.55),
              (5.9, 24.45, 24.8), (5.95, 24.65, 24.95), (6.0, 24.85, 25.2), (6.05, 25.25, 25.37),
              (6.3, 25.57, 25.81), (6.35, 25.1, 25.5), (6.4, 24.3, 24.67), (6.44, 24.0, 24.3)]
M_P60_FIT = ["α = 3.5±0.1", "β = 10.7±1.8"]

PANELS = [
    ("κₛ =2, P=10s, #1, Log(nₑ)=9", K2_P10_CURVES, K2_P10_DEM, K2_P10_XERR, K2_P10_YERR, K2_P10_FIT),
    ("κₛ =5, P=10s, #1, Log(nₑ)=9", K5_P10_CURVES, K5_P10_DEM, K5_P10_XERR, K5_P10_YERR, K5_P10_FIT),
    ("Maxwellian, P=10s, #1, Log(nₑ)=9", M_P10_CURVES, M_P10_DEM, M_P10_XERR, M_P10_YERR, M_P10_FIT),
    ("κₛ =2, P=20s, #1, Log(nₑ)=9", K2_P20_CURVES, K2_P20_DEM, K2_P20_XERR, K2_P20_YERR, K2_P20_FIT),
    ("κₛ =5, P=20s, #1, Log(nₑ)=9", K5_P20_CURVES, K5_P20_DEM, K5_P20_XERR, K5_P20_YERR, K5_P20_FIT),
    ("Maxwellian, P=20s, #1, Log(nₑ)=9", M_P20_CURVES, M_P20_DEM, M_P20_XERR, M_P20_YERR, M_P20_FIT),
    ("κₛ =2, P=60s, #1, Log(nₑ)=9", K2_P60_CURVES, K2_P60_DEM, K2_P60_XERR, K2_P60_YERR, K2_P60_FIT),
    ("κₛ =5, P=60s, #1, Log(nₑ)=9", K5_P60_CURVES, K5_P60_DEM, K5_P60_XERR, K5_P60_YERR, K5_P60_FIT),
    ("Maxwellian, P=60s, #1, Log(nₑ)=9", M_P60_CURVES, M_P60_DEM, M_P60_XERR, M_P60_YERR, M_P60_FIT),
]

# layout (pixels inside each panel)
W, H = 364, 274
FIT_POS = [(257, 232, 17), (257, 233, 17), (257, 233, 17),
           (14, 209, 15), (15, 209, 15), (14, 209, 15),
           (12, 209, 15), (11, 203, 15), (12, 204, 15)]
LEGEND_BOX = {0: (37, 170, 49.6, 15.6), 1: (37, 170, 49.6, 15.6), 2: (39, 186, 50.5, 15.3)}

XS = alt.Scale(domain=[5.5, 7.0], nice=False, zero=False)
YS = alt.Scale(domain=[24, 29], nice=False, zero=False)
X_MAJOR = [5.6, 5.8, 6.0, 6.2, 6.4, 6.6, 6.8, 7.0]
X_MINOR = [round(5.5 + 0.05 * i, 2) for i in range(31)]
Y_MAJOR = [24, 25, 26, 27, 28, 29]
Y_MINOR = [round(d + math.log10(k), 4) for d in range(24, 29) for k in range(2, 10)]
Y_LABELS = "['10²⁴','10²⁵','10²⁶','10²⁷','10²⁸','10²⁹'][round(datum.value) - 24]"


def curve_frame(curves):
    rows = []
    for ion, lines in curves.items():
        for k, pts in enumerate(lines):
            for i, (t, em) in enumerate(pts):
                rows.append({"ion": ion, "cid": f"{ion}/{k}", "i": i, "T": t, "EM": em,
                             "col": LINE_COLOR[ion], "sw": LINE_WIDTH[ion], "cw": CORE_WIDTH[ion]})
    return pd.DataFrame(rows)


def xq(field):
    return alt.X(field, scale=XS, axis=None)


def yq(field):
    return alt.Y(field, scale=YS, axis=None)


def axes_layers(dem_df, row, col):
    common = dict(domain=False, grid=False, tickColor="black", zindex=2, labelFlush=False)
    left_major = dict(orient="left", values=Y_MAJOR, offset=-8, tickSize=8, **common)
    if col == 0:
        left_major.update(labels=True, labelExpr=Y_LABELS, labelPadding=4, labelFontSize=15,
                          title="EM [cm⁻⁵]", titlePadding=5)
    else:
        left_major.update(labels=False, title=None)
    bottom_major = dict(orient="bottom", values=X_MAJOR, offset=-8, tickSize=8, **common)
    if row == 2:
        bottom_major.update(labels=True, format=".1f", labelPadding=5,
                            title="Log T (K)", titlePadding=2)
    else:
        bottom_major.update(labels=False, title=None)
    specs = [
        (bottom_major, left_major),
        (dict(orient="bottom", values=X_MINOR, offset=-4, tickSize=4, labels=False, title=None, **common),
         dict(orient="left", values=Y_MINOR, offset=-4, tickSize=4, labels=False, title=None, **common)),
        (dict(orient="top", values=X_MAJOR, offset=-8, tickSize=8, labels=False, title=None, **common),
         dict(orient="right", values=Y_MAJOR, offset=-8, tickSize=8, labels=False, title=None, **common)),
        (dict(orient="top", values=X_MINOR, offset=-4, tickSize=4, labels=False, title=None, **common),
         dict(orient="right", values=Y_MINOR, offset=-4, tickSize=4, labels=False, title=None, **common)),
    ]
    out = []
    for xa, ya in specs:
        out.append(alt.Chart(dem_df).mark_point(opacity=0, clip=True).encode(
            x=alt.X("T:Q", scale=XS, axis=alt.Axis(**xa)),
            y=alt.Y("EM:Q", scale=YS, axis=alt.Axis(**ya)),
        ))
    return out


def panel(idx):
    title, curves, dem, xerr, yerr, fit = PANELS[idx]
    row, col = divmod(idx, 3)
    cdf = curve_frame(curves)
    dem_df = pd.DataFrame(dem, columns=["T", "EM"])
    xe = pd.DataFrame(xerr, columns=["lo", "hi", "em"])
    ye = pd.DataFrame(yerr, columns=["t", "lo", "hi"])

    lines = alt.Chart(cdf).mark_line(interpolate="monotone", clip=True).encode(
        x=xq("T:Q"), y=yq("EM:Q"),
        color=alt.Color("col:N", scale=None),
        strokeWidth=alt.StrokeWidth("sw:Q", scale=None),
        detail="cid:N", order="i:Q",
    )
    cores = alt.Chart(cdf).transform_filter("datum.cw > 0").mark_line(
        interpolate="monotone", clip=True, color="white").encode(
        x=xq("T:Q"), y=yq("EM:Q"),
        strokeWidth=alt.StrokeWidth("cw:Q", scale=None),
        detail="cid:N", order="i:Q",
    )
    hbars = alt.Chart(xe).mark_rule(color="#a0a0a0", strokeWidth=0.8, clip=True).encode(
        x=xq("lo:Q"), x2="hi:Q", y=yq("em:Q"))
    vbars = alt.Chart(ye).mark_rule(color="#a0a0a0", strokeWidth=0.8, clip=True).encode(
        x=xq("t:Q"), y=yq("lo:Q"), y2="hi:Q")
    dem_line = alt.Chart(dem_df).mark_line(color="black", strokeWidth=2, clip=True).encode(
        x=xq("T:Q"), y=yq("EM:Q"))
    dem_dash = alt.Chart(dem_df).mark_line(color="#e02020", strokeWidth=1, strokeDash=[3, 3],
                                           clip=True).encode(x=xq("T:Q"), y=yq("EM:Q"))

    names = [n for n in IONS if n in curves]
    box_top, box_bot, first, step = LEGEND_BOX[row]
    leg = pd.DataFrame({"name": names, "k": list(range(len(names))),
                        "lc": [LEGEND_COLOR[n] for n in names]})
    box = alt.Chart(pd.DataFrame({"a": [0]})).mark_rect(fill="#efefef").encode(
        x=alt.value(293), x2=alt.value(348), y=alt.value(box_top), y2=alt.value(box_bot))
    leg_text = alt.Chart(leg).transform_calculate(ly=f"{first} + {step} * datum.k").mark_text(
        align="left", baseline="middle", font=FONT, fontSize=13).encode(
        x=alt.value(300), y=alt.Y("ly:Q", scale=None, axis=None),
        text="name:N", color=alt.Color("lc:N", scale=None))

    fx, fy, fstep = FIT_POS[idx]
    fit_df = pd.DataFrame({"s": fit, "k": [0, 1]})
    fit_text = alt.Chart(fit_df).transform_calculate(ly=f"{fy} + {fstep} * datum.k").mark_text(
        align="left", baseline="middle", font=FONT, fontSize=14, color="#e83a3a").encode(
        x=alt.value(fx), y=alt.Y("ly:Q", scale=None, axis=None), text="s:N")

    layers = [lines, cores, hbars, vbars, dem_line, dem_dash, box, leg_text, fit_text]
    layers += axes_layers(dem_df, row, col)
    return alt.layer(*layers).resolve_axis(x="independent", y="independent").properties(
        width=W, height=H,
        title=alt.TitleParams(title, anchor="middle", frame="group", offset=1))


chart = alt.concat(*[panel(i) for i in range(9)], columns=3,
                   spacing={"row": 35, "column": 18.5}, bounds="flush").properties(
    padding={"left": 0, "top": 0, "right": 0, "bottom": 0}
).configure_view(stroke="black", strokeWidth=1).configure_axis(
    labelFont=FONT, titleFont=FONT, labelFontSize=14, titleFontSize=15,
    titleFontWeight="normal", labelColor="black", titleColor="black", tickWidth=1
).configure_title(font=FONT, fontSize=16, fontWeight="normal", color="black")

chart.save("out.html", embed_options={"renderer": "svg", "actions": False})
